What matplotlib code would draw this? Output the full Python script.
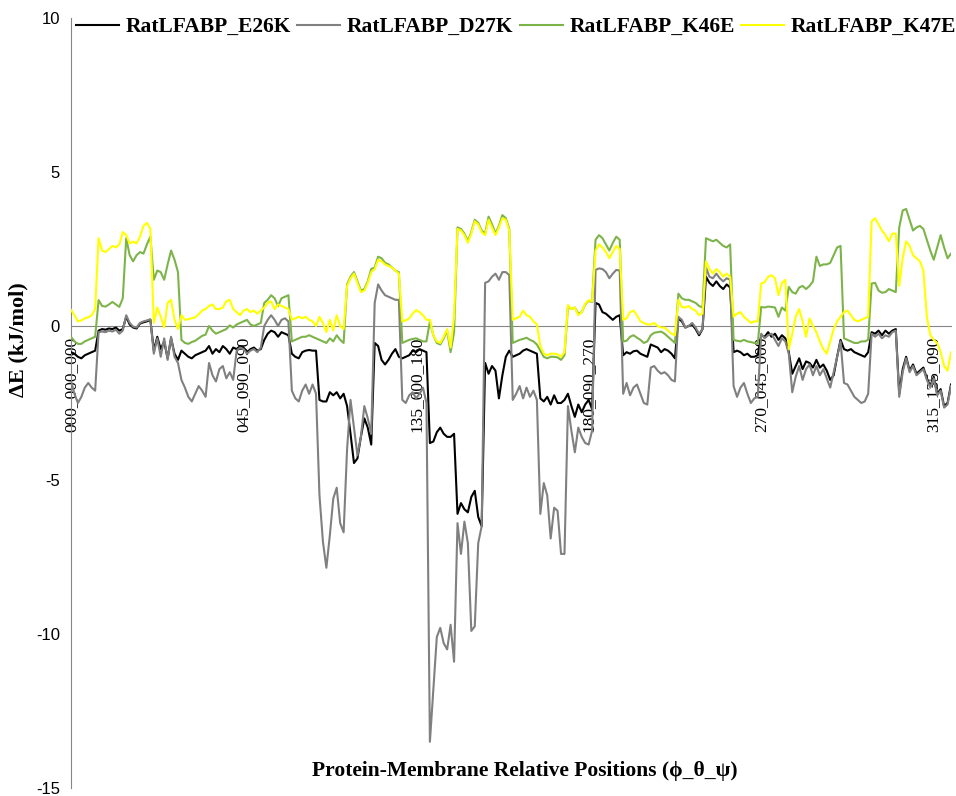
import numpy as np
import matplotlib.pyplot as plt

# ── Categories: protein-membrane relative positions (phi_theta_psi) ──────────
phi_vals   = [0, 45, 90, 135, 180, 225, 270, 315]
theta_vals = [0, 45, 90, 135]
psi_vals   = [0, 45, 90, 135, 180, 225, 270, 315]
positions = [f"{p:03d}_{t:03d}_{s:03d}" for p in phi_vals for t in theta_vals for s in psi_vals]

tick_idx = [0, 50, 100, 150, 200, 250]

# ── Series (kJ/mol), one row per 8 positions ─────────────────────────────────
e26k = [
    -0.85, -0.9, -1.0, -1.05, -0.95, -0.9, -0.85, -0.8,
    -0.15, -0.1, -0.12, -0.08, -0.1, -0.05, -0.15, -0.1,
    0.3, 0.05, -0.05, -0.08, 0.08, 0.12, 0.15, 0.2,
    -0.8, -0.35, -0.75, -0.5, -1.05, -0.4, -0.9, -1.1,
    -0.8, -0.9, -1.0, -1.05, -0.95, -0.9, -0.85, -0.8,
    -0.65, -0.9, -0.75, -0.85, -0.65, -0.75, -0.9, -0.7,
    -0.75, -0.65, -0.7, -0.85, -0.75, -0.7, -0.8, -0.75,
    -0.45, -0.25, -0.15, -0.2, -0.35, -0.2, -0.25, -0.3,
    -0.9, -1.0, -1.05, -0.85, -0.8, -0.78, -0.8, -0.8,
    -2.4, -2.45, -2.45, -2.15, -2.25, -2.15, -2.35, -2.2,
    -2.6, -3.5, -4.45, -4.3, -3.6, -3.0, -3.3, -3.85,
    -0.55, -0.65, -1.1, -1.25, -1.1, -0.9, -0.75, -1.0,
    -1.05, -1.0, -0.95, -0.8, -0.85, -0.75, -0.8, -0.85,
    -3.8, -3.75, -3.45, -3.3, -3.5, -3.6, -3.6, -3.5,
    -6.1, -5.75, -5.95, -6.05, -5.55, -5.35, -6.2, -6.5,
    -1.2, -1.55, -1.3, -1.45, -2.35, -1.6, -1.0, -0.8,
    -1.0, -0.95, -0.9, -0.8, -0.75, -0.8, -0.85, -0.9,
    -2.35, -2.45, -2.3, -2.55, -2.25, -2.5, -2.5, -2.4,
    -2.2, -2.6, -2.95, -2.55, -2.8, -2.55, -2.4, -2.7,
    0.75, 0.7, 0.45, 0.4, 0.3, 0.2, 0.3, 0.35,
    -0.95, -0.85, -0.9, -0.82, -0.8, -0.9, -0.95, -1.0,
    -0.6, -0.65, -0.7, -0.85, -0.75, -0.8, -0.9, -1.05,
    0.25, 0.15, -0.05, 0.0, 0.05, -0.1, -0.3, -0.1,
    1.6, 1.4, 1.3, 1.45, 1.3, 1.2, 1.35, 1.25,
    -0.85, -0.8, -0.85, -0.95, -0.9, -1.0, -1.0, -0.95,
    -0.3, -0.35, -0.2, -0.35, -0.25, -0.45, -0.3, -0.4,
    -0.85, -1.55, -1.3, -1.05, -1.4, -1.15, -1.2, -1.35,
    -1.1, -1.35, -1.25, -1.45, -1.75, -1.6, -1.0, -0.45,
    -0.75, -0.8, -0.75, -0.85, -0.9, -0.95, -1.0, -0.85,
    -0.2, -0.25, -0.15, -0.3, -0.15, -0.25, -0.15, -0.1,
    -2.2, -1.4, -1.0, -1.45, -1.25, -1.55, -1.45, -1.35,
    -1.7, -1.95, -1.65, -2.2, -2.05, -2.6, -2.5, -1.9,
]

d27k = [
    -1.8, -2.2, -2.5, -2.3, -2.0, -1.85, -2.0, -2.1,
    -0.2, -0.18, -0.2, -0.15, -0.18, -0.12, -0.25, -0.15,
    0.35, 0.1, -0.02, -0.05, 0.1, 0.15, 0.18, 0.22,
    -0.9, -0.4, -1.0, -0.4, -1.1, -0.35, -1.0, -1.2,
    -1.75, -2.0, -2.3, -2.45, -2.2, -1.95, -2.1, -2.3,
    -1.2, -1.6, -1.8, -1.4, -1.3, -1.7, -1.5, -1.75,
    -0.8, -0.7, -0.75, -0.9, -0.8, -0.75, -0.85, -0.7,
    0.0, 0.2, 0.35, 0.2, 0.0, 0.2, 0.25, 0.15,
    -2.1, -2.35, -2.45, -2.1, -1.9, -2.2, -1.9, -2.2,
    -5.5, -7.0, -7.85, -6.8, -5.6, -5.25, -6.4, -6.7,
    -4.0, -2.4, -3.3, -4.2, -3.6, -2.6, -3.0, -3.5,
    0.75, 1.35, 1.15, 1.0, 0.95, 0.9, 0.85, 0.85,
    -2.4, -2.5, -2.25, -2.15, -2.35, -2.2, -2.0, -2.5,
    -13.5, -11.8, -10.1, -9.8, -10.3, -10.5, -9.7, -10.9,
    -6.4, -7.4, -6.35, -7.05, -9.9, -9.75, -7.05, -6.5,
    1.4, 1.45, 1.6, 1.7, 1.5, 1.75, 1.75, 1.65,
    -2.4, -2.2, -1.95, -2.35, -2.0, -2.3, -2.1, -2.4,
    -6.1, -5.1, -5.5, -6.9, -5.9, -6.0, -7.4, -7.4,
    -2.6, -3.4, -4.1, -3.3, -3.6, -3.8, -3.85, -3.4,
    1.82, 1.87, 1.85, 1.75, 1.55, 1.7, 1.82, 1.8,
    -2.2, -1.85, -2.25, -2.0, -1.9, -2.2, -2.5, -2.55,
    -1.35, -1.3, -1.45, -1.55, -1.5, -1.6, -1.75, -1.8,
    0.3, 0.2, -0.05, 0.0, 0.1, -0.05, -0.25, -0.1,
    1.9, 1.6, 1.55, 1.7, 1.55, 1.45, 1.55, 1.5,
    -1.95, -2.3, -2.0, -1.85, -2.2, -2.5, -2.35, -2.3,
    -0.25, -0.4, -0.3, -0.25, -0.45, -0.65, -0.4, -0.5,
    -0.9, -2.15, -1.65, -1.3, -1.75, -1.4, -1.25, -1.6,
    -1.3, -1.6, -1.4, -1.7, -2.0, -1.5, -1.0, -0.5,
    -1.85, -1.9, -2.1, -2.3, -2.4, -2.5, -2.45, -2.2,
    -0.25, -0.35, -0.25, -0.4, -0.3, -0.35, -0.2, -0.15,
    -2.3, -1.5, -1.05, -1.5, -1.3, -1.6, -1.5, -1.4,
    -1.75, -2.0, -1.7, -2.25, -2.1, -2.65, -2.55, -1.95,
]

k46e = [
    -0.35, -0.5, -0.58, -0.58, -0.5, -0.45, -0.4, -0.35,
    0.84, 0.65, 0.63, 0.7, 0.78, 0.7, 0.62, 0.9,
    2.85, 2.3, 2.1, 2.3, 2.4, 2.35, 2.65, 2.9,
    1.5, 1.8, 1.75, 1.5, 2.0, 2.45, 2.15, 1.75,
    -0.45, -0.55, -0.58, -0.52, -0.48, -0.4, -0.32, -0.28,
    0.0, -0.15, -0.25, -0.2, -0.15, -0.1, 0.02, -0.05,
    0.05, 0.1, 0.15, 0.2, 0.05, 0.0, 0.05, 0.1,
    0.75, 0.85, 1.0, 0.9, 0.65, 0.9, 0.95, 1.0,
    -0.5, -0.45, -0.4, -0.35, -0.35, -0.3, -0.35, -0.4,
    -0.45, -0.5, -0.55, -0.4, -0.5, -0.3, -0.45, -0.55,
    1.35, 1.6, 1.75, 1.45, 1.15, 1.2, 1.45, 1.85,
    1.9, 2.25, 2.2, 2.05, 2.0, 1.9, 1.8, 1.75,
    -0.55, -0.5, -0.45, -0.42, -0.4, -0.45, -0.5, -0.5,
    0.15, -0.3, -0.55, -0.6, -0.4, -0.15, -0.85, -0.2,
    3.2, 3.15, 3.0, 2.75, 3.05, 3.45, 3.35, 3.1,
    3.0, 3.55, 3.3, 3.0, 3.25, 3.6, 3.5, 3.15,
    -0.55, -0.5, -0.45, -0.42, -0.38, -0.45, -0.5, -0.6,
    -0.8, -1.0, -1.05, -1.0, -1.0, -1.02, -1.1, -0.95,
    0.63, 0.55, 0.6, 0.4, 0.45, 0.7, 0.82, 0.78,
    2.8, 2.95, 2.85, 2.65, 2.45, 2.7, 2.9, 2.8,
    -0.5, -0.48, -0.35, -0.3, -0.38, -0.45, -0.55, -0.5,
    -0.3, -0.22, -0.2, -0.18, -0.25, -0.35, -0.45, -0.55,
    1.05, 0.9, 0.85, 0.85, 0.8, 0.75, 0.65, 0.6,
    2.85, 2.8, 2.75, 2.8, 2.7, 2.6, 2.55, 2.65,
    -0.45, -0.48, -0.5, -0.45, -0.5, -0.52, -0.55, -0.58,
    0.62, 0.6, 0.63, 0.62, 0.6, 0.3, 0.6, 0.5,
    1.27, 1.1, 1.05, 1.25, 1.3, 1.2, 1.3, 1.45,
    2.25, 1.95, 2.0, 2.0, 2.05, 2.3, 2.55, 2.6,
    -0.4, -0.45, -0.5, -0.55, -0.55, -0.5, -0.5, -0.45,
    1.38, 1.4, 1.15, 1.08, 1.1, 1.2, 1.15, 1.1,
    3.2, 3.75, 3.8, 3.45, 3.1, 3.2, 3.25, 3.15,
    2.8, 2.45, 2.15, 2.55, 2.95, 2.55, 2.2, 2.35,
]

k47e = [
    0.52, 0.35, 0.15, 0.18, 0.25, 0.28, 0.35, 0.55,
    2.85, 2.45, 2.4, 2.5, 2.6, 2.55, 2.65, 3.05,
    2.95, 2.68, 2.74, 2.68, 2.9, 3.25, 3.35, 3.15,
    0.1, 0.6, 0.3, -0.05, 0.75, 0.85, 0.2, -0.1,
    0.35, 0.2, 0.22, 0.25, 0.28, 0.38, 0.5, 0.55,
    0.65, 0.7, 0.55, 0.55, 0.6, 0.8, 0.85, 0.55,
    0.45, 0.35, 0.5, 0.55, 0.45, 0.5, 0.4, 0.5,
    0.6, 0.75, 0.8, 0.55, 0.7, 0.65, 0.6, 0.55,
    0.2, 0.25, 0.3, 0.25, 0.3, 0.2, 0.15, 0.0,
    0.3, 0.1, -0.2, 0.2, -0.15, 0.35, 0.0, -0.1,
    1.3, 1.55, 1.7, 1.4, 1.1, 1.15, 1.4, 1.75,
    1.85, 2.15, 2.1, 2.0, 1.95, 1.9, 1.8, 1.7,
    0.15, 0.18, 0.25, 0.4, 0.52, 0.45, 0.35, 0.2,
    0.2, -0.3, -0.5, -0.55, -0.35, -0.1, -0.7, 0.3,
    3.15, 3.1, 2.95, 2.7, 3.0, 3.4, 3.3, 3.05,
    2.95, 3.45, 3.2, 2.95, 3.2, 3.5, 3.45, 3.1,
    0.2, 0.25, 0.3, 0.5, 0.35, 0.3, 0.15, 0.05,
    -0.65, -0.9, -0.95, -0.9, -0.9, -0.92, -1.0, -0.85,
    0.68, 0.55, 0.6, 0.35, 0.45, 0.72, 0.84, 0.8,
    2.45, 2.65, 2.55, 2.4, 2.2, 2.4, 2.6, 2.5,
    0.2, 0.25, 0.45, 0.5, 0.35, 0.15, 0.1, 0.05,
    0.05, 0.1, 0.0, -0.05, -0.05, -0.15, -0.25, -0.3,
    0.85, 0.62, 0.6, 0.65, 0.55, 0.5, 0.35, 0.4,
    2.1, 1.85, 1.7, 1.85, 1.75, 1.6, 1.7, 1.6,
    0.3, 0.4, 0.45, 0.3, 0.2, 0.1, 0.15, 0.15,
    1.38, 1.42, 1.6, 1.65, 1.55, 1.0, 1.4, 1.5,
    -0.75, -0.25, 0.3, 0.55, 0.15, -0.35, 0.25, 0.0,
    -0.2, -0.5, -0.75, -0.9, -0.5, -0.1, 0.15, 0.3,
    0.45, 0.5, 0.35, 0.2, 0.15, 0.2, 0.25, 0.3,
    3.4, 3.5, 3.3, 3.1, 2.95, 2.75, 3.0, 3.0,
    1.3, 2.2, 2.75, 2.6, 2.3, 2.2, 2.1, 1.8,
    0.3, -0.3, -0.45, -0.55, -0.85, -1.3, -1.45, -0.85,
]

series = [
    ("RatLFABP_E26K", e26k, "#000000"),
    ("RatLFABP_D27K", d27k, "#808080"),
    ("RatLFABP_K46E", k46e, "#7DB44A"),
    ("RatLFABP_K47E", k47e, "#FFFF00"),
]

serif = ["Liberation Serif", "DejaVu Serif"]
axis_grey = "#868686"

# ── Figure ───────────────────────────────────────────────────────────────────
fig = plt.figure(figsize=(9.56, 7.96), dpi=100)
ax = fig.add_axes([71 / 956, 8 / 796, 880 / 956, 770 / 796])

x = np.arange(len(positions))
for name, vals, col in series:
    ax.plot(x, vals, color=col, lw=1.5, label=name, zorder=3)

ax.set_xlim(0, len(positions) - 1)
ax.set_ylim(-15, 10)

for s in ["top", "right"]:
    ax.spines[s].set_visible(False)
ax.spines["left"].set_color(axis_grey)
ax.spines["bottom"].set_color(axis_grey)
ax.spines["bottom"].set_position(("data", 0))

ax.set_yticks([-15, -10, -5, 0, 5, 10])
ax.set_yticklabels(["-15", "-10", "-5", "0", "5", "10"], family="Liberation Sans", fontsize=12)
ax.set_xticks(tick_idx)
ax.set_xticklabels([positions[i] for i in tick_idx], rotation=90, va="top",
                   family=serif, fontsize=12.5)
ax.tick_params(axis="both", length=0)
ax.tick_params(axis="y", pad=8)
ax.tick_params(axis="x", pad=8)

fig.text(18 / 956, 1 - 340 / 796, "\u0394E (kJ/mol)", rotation=90, ha="center", va="center",
         family=serif, fontweight="bold", fontsize=16)
fig.text(525 / 956, 1 - 771 / 796, "Protein-Membrane Relative Positions (\u03d5_\u03b8_\u03c8)",
         ha="center", va="center", family=serif, fontweight="bold", fontsize=15.5)

fig.legend(loc="center", bbox_to_anchor=(516 / 956, 1 - 27 / 796), ncol=4, frameon=False,
           prop={"family": serif, "weight": "bold", "size": 15.5},
           handlelength=2.0, handletextpad=0.3, columnspacing=0.3)

fig.savefig("out.png", dpi=100)
